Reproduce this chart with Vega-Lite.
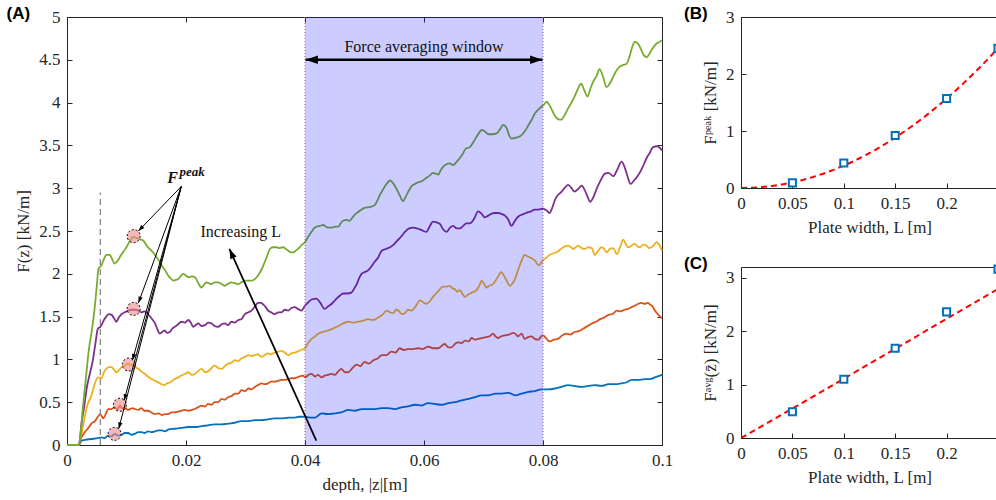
{
"$schema":"https://vega.github.io/schema/vega-lite/v6.json",
"background":"white",
"padding":{"left":5,"top":4,"right":0,"bottom":0},
"spacing":79,
"bounds":"flush",
"datasets":{
"curves":[
{"L":"0.05","d":0,"F":0},{"L":"0.05","d":0.002,"F":0},{"L":"0.05","d":0.0022,"F":0.02},{"L":"0.05","d":0.0024,"F":0.05},{"L":"0.05","d":0.003,"F":0.06},{"L":"0.05","d":0.0041,"F":0.07},{"L":"0.05","d":0.0052,"F":0.08},{"L":"0.05","d":0.0058,"F":0.09},{"L":"0.05","d":0.0063,"F":0.08},{"L":"0.05","d":0.0069,"F":0.11},{"L":"0.05","d":0.0075,"F":0.1},{"L":"0.05","d":0.008,"F":0.13},{"L":"0.05","d":0.0086,"F":0.11},{"L":"0.05","d":0.0092,"F":0.12},{"L":"0.05","d":0.0097,"F":0.14},{"L":"0.05","d":0.0103,"F":0.14},{"L":"0.05","d":0.0108,"F":0.12},{"L":"0.05","d":0.0114,"F":0.13},{"L":"0.05","d":0.012,"F":0.15},{"L":"0.05","d":0.0125,"F":0.15},{"L":"0.05","d":0.0131,"F":0.14},{"L":"0.05","d":0.0136,"F":0.16},{"L":"0.05","d":0.0142,"F":0.15},{"L":"0.05","d":0.0148,"F":0.16},{"L":"0.05","d":0.0154,"F":0.17},{"L":"0.05","d":0.0159,"F":0.17},{"L":"0.05","d":0.0165,"F":0.16},{"L":"0.05","d":0.017,"F":0.18},{"L":"0.05","d":0.0181,"F":0.19},{"L":"0.05","d":0.0192,"F":0.2},{"L":"0.05","d":0.0204,"F":0.21},{"L":"0.05","d":0.0215,"F":0.21},{"L":"0.05","d":0.0226,"F":0.22},{"L":"0.05","d":0.0237,"F":0.23},{"L":"0.05","d":0.0248,"F":0.24},{"L":"0.05","d":0.026,"F":0.24},{"L":"0.05","d":0.0271,"F":0.25},{"L":"0.05","d":0.0282,"F":0.26},{"L":"0.05","d":0.0293,"F":0.28},{"L":"0.05","d":0.0305,"F":0.28},{"L":"0.05","d":0.0316,"F":0.29},{"L":"0.05","d":0.0327,"F":0.29},{"L":"0.05","d":0.0338,"F":0.3},{"L":"0.05","d":0.0349,"F":0.31},{"L":"0.05","d":0.036,"F":0.31},{"L":"0.05","d":0.0372,"F":0.32},{"L":"0.05","d":0.0383,"F":0.32},{"L":"0.05","d":0.039,"F":0.33},{"L":"0.05","d":0.04,"F":0.33},{"L":"0.05","d":0.0408,"F":0.32},{"L":"0.05","d":0.0417,"F":0.32},{"L":"0.05","d":0.0428,"F":0.37},{"L":"0.05","d":0.0439,"F":0.36},{"L":"0.05","d":0.045,"F":0.37},{"L":"0.05","d":0.0461,"F":0.38},{"L":"0.05","d":0.0473,"F":0.41},{"L":"0.05","d":0.0484,"F":0.4},{"L":"0.05","d":0.0495,"F":0.42},{"L":"0.05","d":0.0506,"F":0.42},{"L":"0.05","d":0.0517,"F":0.42},{"L":"0.05","d":0.0529,"F":0.43},{"L":"0.05","d":0.054,"F":0.43},{"L":"0.05","d":0.0551,"F":0.42},{"L":"0.05","d":0.0562,"F":0.44},{"L":"0.05","d":0.0573,"F":0.45},{"L":"0.05","d":0.0585,"F":0.47},{"L":"0.05","d":0.0596,"F":0.46},{"L":"0.05","d":0.0607,"F":0.49},{"L":"0.05","d":0.0618,"F":0.48},{"L":"0.05","d":0.063,"F":0.47},{"L":"0.05","d":0.0641,"F":0.49},{"L":"0.05","d":0.0652,"F":0.5},{"L":"0.05","d":0.0663,"F":0.52},{"L":"0.05","d":0.0675,"F":0.54},{"L":"0.05","d":0.0686,"F":0.56},{"L":"0.05","d":0.0697,"F":0.58},{"L":"0.05","d":0.0708,"F":0.58},{"L":"0.05","d":0.072,"F":0.6},{"L":"0.05","d":0.0731,"F":0.6},{"L":"0.05","d":0.0742,"F":0.61},{"L":"0.05","d":0.0753,"F":0.58},{"L":"0.05","d":0.0764,"F":0.6},{"L":"0.05","d":0.0775,"F":0.62},{"L":"0.05","d":0.0786,"F":0.63},{"L":"0.05","d":0.0797,"F":0.65},{"L":"0.05","d":0.0808,"F":0.65},{"L":"0.05","d":0.082,"F":0.66},{"L":"0.05","d":0.0831,"F":0.68},{"L":"0.05","d":0.0842,"F":0.7},{"L":"0.05","d":0.0853,"F":0.69},{"L":"0.05","d":0.0864,"F":0.68},{"L":"0.05","d":0.0876,"F":0.69},{"L":"0.05","d":0.0887,"F":0.7},{"L":"0.05","d":0.0898,"F":0.69},{"L":"0.05","d":0.091,"F":0.71},{"L":"0.05","d":0.0921,"F":0.71},{"L":"0.05","d":0.0932,"F":0.72},{"L":"0.05","d":0.094,"F":0.73},{"L":"0.05","d":0.0949,"F":0.76},{"L":"0.05","d":0.096,"F":0.76},{"L":"0.05","d":0.0971,"F":0.77},{"L":"0.05","d":0.098,"F":0.77},{"L":"0.05","d":0.0988,"F":0.79},{"L":"0.05","d":0.1,"F":0.82},
{"L":"0.1","d":0,"F":0},{"L":"0.1","d":0.002,"F":0},{"L":"0.1","d":0.0022,"F":0.05},{"L":"0.1","d":0.003,"F":0.15},{"L":"0.1","d":0.0036,"F":0.2},{"L":"0.1","d":0.0041,"F":0.25},{"L":"0.1","d":0.0047,"F":0.28},{"L":"0.1","d":0.0052,"F":0.33},{"L":"0.1","d":0.0056,"F":0.36},{"L":"0.1","d":0.0061,"F":0.31},{"L":"0.1","d":0.0065,"F":0.36},{"L":"0.1","d":0.0069,"F":0.42},{"L":"0.1","d":0.0075,"F":0.42},{"L":"0.1","d":0.008,"F":0.44},{"L":"0.1","d":0.0085,"F":0.42},{"L":"0.1","d":0.0089,"F":0.46},{"L":"0.1","d":0.0093,"F":0.43},{"L":"0.1","d":0.0097,"F":0.44},{"L":"0.1","d":0.0102,"F":0.41},{"L":"0.1","d":0.0106,"F":0.42},{"L":"0.1","d":0.011,"F":0.43},{"L":"0.1","d":0.0114,"F":0.42},{"L":"0.1","d":0.012,"F":0.41},{"L":"0.1","d":0.0125,"F":0.43},{"L":"0.1","d":0.013,"F":0.4},{"L":"0.1","d":0.0136,"F":0.4},{"L":"0.1","d":0.0142,"F":0.38},{"L":"0.1","d":0.0148,"F":0.36},{"L":"0.1","d":0.0154,"F":0.37},{"L":"0.1","d":0.0159,"F":0.35},{"L":"0.1","d":0.0165,"F":0.36},{"L":"0.1","d":0.017,"F":0.36},{"L":"0.1","d":0.0176,"F":0.38},{"L":"0.1","d":0.0181,"F":0.38},{"L":"0.1","d":0.0187,"F":0.39},{"L":"0.1","d":0.0192,"F":0.4},{"L":"0.1","d":0.0198,"F":0.41},{"L":"0.1","d":0.0204,"F":0.4},{"L":"0.1","d":0.021,"F":0.41},{"L":"0.1","d":0.0215,"F":0.42},{"L":"0.1","d":0.022,"F":0.44},{"L":"0.1","d":0.0226,"F":0.46},{"L":"0.1","d":0.0232,"F":0.45},{"L":"0.1","d":0.0237,"F":0.48},{"L":"0.1","d":0.0243,"F":0.47},{"L":"0.1","d":0.0248,"F":0.5},{"L":"0.1","d":0.0254,"F":0.5},{"L":"0.1","d":0.026,"F":0.54},{"L":"0.1","d":0.0265,"F":0.53},{"L":"0.1","d":0.0271,"F":0.56},{"L":"0.1","d":0.0276,"F":0.57},{"L":"0.1","d":0.0282,"F":0.6},{"L":"0.1","d":0.0288,"F":0.6},{"L":"0.1","d":0.0293,"F":0.64},{"L":"0.1","d":0.0299,"F":0.63},{"L":"0.1","d":0.0305,"F":0.66},{"L":"0.1","d":0.031,"F":0.65},{"L":"0.1","d":0.0316,"F":0.68},{"L":"0.1","d":0.0321,"F":0.7},{"L":"0.1","d":0.0327,"F":0.72},{"L":"0.1","d":0.0332,"F":0.71},{"L":"0.1","d":0.0338,"F":0.72},{"L":"0.1","d":0.0343,"F":0.74},{"L":"0.1","d":0.0349,"F":0.74},{"L":"0.1","d":0.0355,"F":0.75},{"L":"0.1","d":0.036,"F":0.76},{"L":"0.1","d":0.0366,"F":0.76},{"L":"0.1","d":0.0372,"F":0.77},{"L":"0.1","d":0.0377,"F":0.78},{"L":"0.1","d":0.0383,"F":0.78},{"L":"0.1","d":0.039,"F":0.8},{"L":"0.1","d":0.0397,"F":0.81},{"L":"0.1","d":0.04,"F":0.79},{"L":"0.1","d":0.0406,"F":0.82},{"L":"0.1","d":0.0411,"F":0.83},{"L":"0.1","d":0.0417,"F":0.8},{"L":"0.1","d":0.0422,"F":0.82},{"L":"0.1","d":0.0428,"F":0.79},{"L":"0.1","d":0.0433,"F":0.81},{"L":"0.1","d":0.0439,"F":0.82},{"L":"0.1","d":0.0445,"F":0.83},{"L":"0.1","d":0.045,"F":0.82},{"L":"0.1","d":0.0456,"F":0.86},{"L":"0.1","d":0.0461,"F":0.89},{"L":"0.1","d":0.0467,"F":0.85},{"L":"0.1","d":0.0473,"F":0.85},{"L":"0.1","d":0.048,"F":0.9},{"L":"0.1","d":0.0487,"F":0.94},{"L":"0.1","d":0.0493,"F":0.92},{"L":"0.1","d":0.05,"F":0.97},{"L":"0.1","d":0.0507,"F":0.95},{"L":"0.1","d":0.0515,"F":0.99},{"L":"0.1","d":0.0522,"F":1.01},{"L":"0.1","d":0.0529,"F":1.05},{"L":"0.1","d":0.0537,"F":1.05},{"L":"0.1","d":0.0545,"F":1.09},{"L":"0.1","d":0.0552,"F":1.08},{"L":"0.1","d":0.0559,"F":1.13},{"L":"0.1","d":0.0566,"F":1.11},{"L":"0.1","d":0.0573,"F":1.12},{"L":"0.1","d":0.0582,"F":1.12},{"L":"0.1","d":0.059,"F":1.13},{"L":"0.1","d":0.0598,"F":1.12},{"L":"0.1","d":0.0607,"F":1.15},{"L":"0.1","d":0.0615,"F":1.13},{"L":"0.1","d":0.0624,"F":1.13},{"L":"0.1","d":0.063,"F":1.16},{"L":"0.1","d":0.0635,"F":1.18},{"L":"0.1","d":0.0641,"F":1.14},{"L":"0.1","d":0.0646,"F":1.14},{"L":"0.1","d":0.0652,"F":1.18},{"L":"0.1","d":0.0657,"F":1.2},{"L":"0.1","d":0.0663,"F":1.19},{"L":"0.1","d":0.0669,"F":1.22},{"L":"0.1","d":0.0675,"F":1.21},{"L":"0.1","d":0.068,"F":1.25},{"L":"0.1","d":0.0686,"F":1.23},{"L":"0.1","d":0.0691,"F":1.24},{"L":"0.1","d":0.0698,"F":1.25},{"L":"0.1","d":0.0705,"F":1.26},{"L":"0.1","d":0.071,"F":1.27},{"L":"0.1","d":0.0716,"F":1.3},{"L":"0.1","d":0.072,"F":1.27},{"L":"0.1","d":0.0725,"F":1.25},{"L":"0.1","d":0.073,"F":1.27},{"L":"0.1","d":0.0736,"F":1.28},{"L":"0.1","d":0.0743,"F":1.29},{"L":"0.1","d":0.075,"F":1.31},{"L":"0.1","d":0.0755,"F":1.29},{"L":"0.1","d":0.0758,"F":1.27},{"L":"0.1","d":0.0764,"F":1.3},{"L":"0.1","d":0.0769,"F":1.24},{"L":"0.1","d":0.0775,"F":1.26},{"L":"0.1","d":0.0781,"F":1.27},{"L":"0.1","d":0.0786,"F":1.24},{"L":"0.1","d":0.0792,"F":1.23},{"L":"0.1","d":0.0797,"F":1.27},{"L":"0.1","d":0.08,"F":1.28},{"L":"0.1","d":0.0806,"F":1.24},{"L":"0.1","d":0.0811,"F":1.21},{"L":"0.1","d":0.0818,"F":1.23},{"L":"0.1","d":0.0825,"F":1.24},{"L":"0.1","d":0.0832,"F":1.28},{"L":"0.1","d":0.0839,"F":1.3},{"L":"0.1","d":0.0846,"F":1.29},{"L":"0.1","d":0.0853,"F":1.32},{"L":"0.1","d":0.086,"F":1.33},{"L":"0.1","d":0.0868,"F":1.36},{"L":"0.1","d":0.0875,"F":1.39},{"L":"0.1","d":0.0882,"F":1.42},{"L":"0.1","d":0.0889,"F":1.44},{"L":"0.1","d":0.0896,"F":1.47},{"L":"0.1","d":0.0903,"F":1.49},{"L":"0.1","d":0.091,"F":1.52},{"L":"0.1","d":0.0917,"F":1.53},{"L":"0.1","d":0.0924,"F":1.57},{"L":"0.1","d":0.093,"F":1.56},{"L":"0.1","d":0.0937,"F":1.58},{"L":"0.1","d":0.0943,"F":1.59},{"L":"0.1","d":0.0949,"F":1.61},{"L":"0.1","d":0.0955,"F":1.63},{"L":"0.1","d":0.096,"F":1.65},{"L":"0.1","d":0.0966,"F":1.66},{"L":"0.1","d":0.0971,"F":1.65},{"L":"0.1","d":0.0976,"F":1.66},{"L":"0.1","d":0.098,"F":1.64},{"L":"0.1","d":0.0984,"F":1.62},{"L":"0.1","d":0.0988,"F":1.57},{"L":"0.1","d":0.0994,"F":1.52},{"L":"0.1","d":0.1,"F":1.48},
{"L":"0.15","d":0,"F":0},{"L":"0.15","d":0.002,"F":0},{"L":"0.15","d":0.0022,"F":0.05},{"L":"0.15","d":0.0027,"F":0.23},{"L":"0.15","d":0.0034,"F":0.46},{"L":"0.15","d":0.0041,"F":0.58},{"L":"0.15","d":0.0046,"F":0.7},{"L":"0.15","d":0.0052,"F":0.79},{"L":"0.15","d":0.0058,"F":0.78},{"L":"0.15","d":0.0062,"F":0.85},{"L":"0.15","d":0.0066,"F":0.89},{"L":"0.15","d":0.0071,"F":0.91},{"L":"0.15","d":0.0075,"F":0.91},{"L":"0.15","d":0.0079,"F":0.88},{"L":"0.15","d":0.0083,"F":0.85},{"L":"0.15","d":0.0088,"F":0.88},{"L":"0.15","d":0.0092,"F":0.91},{"L":"0.15","d":0.0097,"F":0.93},{"L":"0.15","d":0.0103,"F":0.95},{"L":"0.15","d":0.0107,"F":0.93},{"L":"0.15","d":0.0111,"F":0.94},{"L":"0.15","d":0.0115,"F":0.91},{"L":"0.15","d":0.012,"F":0.89},{"L":"0.15","d":0.0125,"F":0.86},{"L":"0.15","d":0.0131,"F":0.83},{"L":"0.15","d":0.0136,"F":0.8},{"L":"0.15","d":0.0142,"F":0.77},{"L":"0.15","d":0.0148,"F":0.75},{"L":"0.15","d":0.0154,"F":0.73},{"L":"0.15","d":0.0159,"F":0.71},{"L":"0.15","d":0.0164,"F":0.7},{"L":"0.15","d":0.0168,"F":0.72},{"L":"0.15","d":0.0173,"F":0.73},{"L":"0.15","d":0.0177,"F":0.75},{"L":"0.15","d":0.0181,"F":0.77},{"L":"0.15","d":0.0187,"F":0.79},{"L":"0.15","d":0.0192,"F":0.81},{"L":"0.15","d":0.0198,"F":0.83},{"L":"0.15","d":0.0204,"F":0.85},{"L":"0.15","d":0.021,"F":0.82},{"L":"0.15","d":0.0215,"F":0.83},{"L":"0.15","d":0.022,"F":0.86},{"L":"0.15","d":0.0226,"F":0.89},{"L":"0.15","d":0.0232,"F":0.85},{"L":"0.15","d":0.0237,"F":0.86},{"L":"0.15","d":0.0243,"F":0.9},{"L":"0.15","d":0.0248,"F":0.93},{"L":"0.15","d":0.0254,"F":0.9},{"L":"0.15","d":0.026,"F":0.89},{"L":"0.15","d":0.0265,"F":0.92},{"L":"0.15","d":0.0271,"F":0.95},{"L":"0.15","d":0.0276,"F":0.96},{"L":"0.15","d":0.0282,"F":0.99},{"L":"0.15","d":0.0288,"F":0.98},{"L":"0.15","d":0.0293,"F":1.01},{"L":"0.15","d":0.0299,"F":1.03},{"L":"0.15","d":0.0305,"F":1.05},{"L":"0.15","d":0.031,"F":1.04},{"L":"0.15","d":0.0316,"F":1.05},{"L":"0.15","d":0.0321,"F":1.06},{"L":"0.15","d":0.0327,"F":1.03},{"L":"0.15","d":0.0332,"F":1.05},{"L":"0.15","d":0.0338,"F":1.07},{"L":"0.15","d":0.0343,"F":1.06},{"L":"0.15","d":0.0349,"F":1.08},{"L":"0.15","d":0.0355,"F":1.09},{"L":"0.15","d":0.036,"F":1.1},{"L":"0.15","d":0.0366,"F":1.08},{"L":"0.15","d":0.0372,"F":1.05},{"L":"0.15","d":0.0377,"F":1.07},{"L":"0.15","d":0.0383,"F":1.08},{"L":"0.15","d":0.039,"F":1.1},{"L":"0.15","d":0.0397,"F":1.12},{"L":"0.15","d":0.04,"F":1.13},{"L":"0.15","d":0.0405,"F":1.19},{"L":"0.15","d":0.0411,"F":1.24},{"L":"0.15","d":0.0417,"F":1.27},{"L":"0.15","d":0.0422,"F":1.3},{"L":"0.15","d":0.043,"F":1.32},{"L":"0.15","d":0.0439,"F":1.34},{"L":"0.15","d":0.0447,"F":1.36},{"L":"0.15","d":0.0456,"F":1.39},{"L":"0.15","d":0.0464,"F":1.42},{"L":"0.15","d":0.0473,"F":1.44},{"L":"0.15","d":0.048,"F":1.43},{"L":"0.15","d":0.0489,"F":1.44},{"L":"0.15","d":0.0497,"F":1.45},{"L":"0.15","d":0.0506,"F":1.47},{"L":"0.15","d":0.0515,"F":1.46},{"L":"0.15","d":0.0523,"F":1.49},{"L":"0.15","d":0.053,"F":1.52},{"L":"0.15","d":0.0537,"F":1.57},{"L":"0.15","d":0.0543,"F":1.55},{"L":"0.15","d":0.0548,"F":1.54},{"L":"0.15","d":0.0553,"F":1.58},{"L":"0.15","d":0.0557,"F":1.57},{"L":"0.15","d":0.0563,"F":1.53},{"L":"0.15","d":0.0568,"F":1.54},{"L":"0.15","d":0.0573,"F":1.58},{"L":"0.15","d":0.0579,"F":1.57},{"L":"0.15","d":0.0586,"F":1.62},{"L":"0.15","d":0.0593,"F":1.69},{"L":"0.15","d":0.0598,"F":1.67},{"L":"0.15","d":0.0604,"F":1.65},{"L":"0.15","d":0.061,"F":1.68},{"L":"0.15","d":0.0615,"F":1.73},{"L":"0.15","d":0.0623,"F":1.79},{"L":"0.15","d":0.0632,"F":1.85},{"L":"0.15","d":0.0638,"F":1.85},{"L":"0.15","d":0.0643,"F":1.86},{"L":"0.15","d":0.0648,"F":1.83},{"L":"0.15","d":0.0652,"F":1.82},{"L":"0.15","d":0.0656,"F":1.79},{"L":"0.15","d":0.066,"F":1.81},{"L":"0.15","d":0.0665,"F":1.76},{"L":"0.15","d":0.0669,"F":1.73},{"L":"0.15","d":0.0675,"F":1.76},{"L":"0.15","d":0.068,"F":1.78},{"L":"0.15","d":0.0688,"F":1.81},{"L":"0.15","d":0.0693,"F":1.86},{"L":"0.15","d":0.0697,"F":1.92},{"L":"0.15","d":0.0701,"F":1.88},{"L":"0.15","d":0.0705,"F":1.84},{"L":"0.15","d":0.071,"F":1.86},{"L":"0.15","d":0.0716,"F":1.88},{"L":"0.15","d":0.0723,"F":1.95},{"L":"0.15","d":0.073,"F":2.02},{"L":"0.15","d":0.0735,"F":1.97},{"L":"0.15","d":0.0739,"F":1.92},{"L":"0.15","d":0.0744,"F":1.86},{"L":"0.15","d":0.0749,"F":1.89},{"L":"0.15","d":0.0753,"F":1.94},{"L":"0.15","d":0.0757,"F":2.02},{"L":"0.15","d":0.0761,"F":2.1},{"L":"0.15","d":0.0765,"F":2.17},{"L":"0.15","d":0.0769,"F":2.22},{"L":"0.15","d":0.0775,"F":2.2},{"L":"0.15","d":0.0781,"F":2.18},{"L":"0.15","d":0.0787,"F":2.15},{"L":"0.15","d":0.0792,"F":2.1},{"L":"0.15","d":0.0796,"F":2.12},{"L":"0.15","d":0.08,"F":2.16},{"L":"0.15","d":0.0806,"F":2.19},{"L":"0.15","d":0.0811,"F":2.22},{"L":"0.15","d":0.0818,"F":2.24},{"L":"0.15","d":0.0825,"F":2.26},{"L":"0.15","d":0.0832,"F":2.3},{"L":"0.15","d":0.0837,"F":2.32},{"L":"0.15","d":0.0842,"F":2.33},{"L":"0.15","d":0.0847,"F":2.31},{"L":"0.15","d":0.0851,"F":2.29},{"L":"0.15","d":0.0855,"F":2.31},{"L":"0.15","d":0.0859,"F":2.33},{"L":"0.15","d":0.0865,"F":2.3},{"L":"0.15","d":0.087,"F":2.29},{"L":"0.15","d":0.0876,"F":2.31},{"L":"0.15","d":0.0882,"F":2.3},{"L":"0.15","d":0.0887,"F":2.22},{"L":"0.15","d":0.0892,"F":2.26},{"L":"0.15","d":0.0898,"F":2.31},{"L":"0.15","d":0.0903,"F":2.29},{"L":"0.15","d":0.0907,"F":2.25},{"L":"0.15","d":0.0912,"F":2.29},{"L":"0.15","d":0.0918,"F":2.3},{"L":"0.15","d":0.0924,"F":2.23},{"L":"0.15","d":0.093,"F":2.32},{"L":"0.15","d":0.0935,"F":2.4},{"L":"0.15","d":0.0939,"F":2.35},{"L":"0.15","d":0.0943,"F":2.31},{"L":"0.15","d":0.0949,"F":2.33},{"L":"0.15","d":0.0954,"F":2.35},{"L":"0.15","d":0.0959,"F":2.32},{"L":"0.15","d":0.0963,"F":2.31},{"L":"0.15","d":0.0968,"F":2.34},{"L":"0.15","d":0.0974,"F":2.33},{"L":"0.15","d":0.0978,"F":2.3},{"L":"0.15","d":0.0982,"F":2.31},{"L":"0.15","d":0.0987,"F":2.34},{"L":"0.15","d":0.0991,"F":2.37},{"L":"0.15","d":0.0996,"F":2.33},{"L":"0.15","d":0.1,"F":2.27},
{"L":"0.2","d":0,"F":0},{"L":"0.2","d":0.002,"F":0},{"L":"0.2","d":0.0022,"F":0.08},{"L":"0.2","d":0.0024,"F":0.23},{"L":"0.2","d":0.0029,"F":0.45},{"L":"0.2","d":0.0033,"F":0.66},{"L":"0.2","d":0.0039,"F":0.85},{"L":"0.2","d":0.0044,"F":1.01},{"L":"0.2","d":0.0048,"F":1.2},{"L":"0.2","d":0.0052,"F":1.36},{"L":"0.2","d":0.0056,"F":1.38},{"L":"0.2","d":0.0058,"F":1.4},{"L":"0.2","d":0.0062,"F":1.46},{"L":"0.2","d":0.0066,"F":1.5},{"L":"0.2","d":0.007,"F":1.53},{"L":"0.2","d":0.0075,"F":1.52},{"L":"0.2","d":0.0079,"F":1.48},{"L":"0.2","d":0.0083,"F":1.44},{"L":"0.2","d":0.0087,"F":1.49},{"L":"0.2","d":0.0092,"F":1.53},{"L":"0.2","d":0.0097,"F":1.55},{"L":"0.2","d":0.0103,"F":1.57},{"L":"0.2","d":0.0108,"F":1.58},{"L":"0.2","d":0.0114,"F":1.58},{"L":"0.2","d":0.012,"F":1.57},{"L":"0.2","d":0.0125,"F":1.55},{"L":"0.2","d":0.013,"F":1.56},{"L":"0.2","d":0.0136,"F":1.53},{"L":"0.2","d":0.0142,"F":1.48},{"L":"0.2","d":0.0148,"F":1.42},{"L":"0.2","d":0.0152,"F":1.35},{"L":"0.2","d":0.0156,"F":1.3},{"L":"0.2","d":0.016,"F":1.32},{"L":"0.2","d":0.0164,"F":1.34},{"L":"0.2","d":0.0168,"F":1.31},{"L":"0.2","d":0.0173,"F":1.32},{"L":"0.2","d":0.0177,"F":1.36},{"L":"0.2","d":0.0181,"F":1.38},{"L":"0.2","d":0.0187,"F":1.41},{"L":"0.2","d":0.0192,"F":1.44},{"L":"0.2","d":0.0198,"F":1.43},{"L":"0.2","d":0.0204,"F":1.46},{"L":"0.2","d":0.0208,"F":1.43},{"L":"0.2","d":0.0212,"F":1.38},{"L":"0.2","d":0.0216,"F":1.4},{"L":"0.2","d":0.0221,"F":1.42},{"L":"0.2","d":0.0226,"F":1.39},{"L":"0.2","d":0.0232,"F":1.4},{"L":"0.2","d":0.0237,"F":1.43},{"L":"0.2","d":0.0243,"F":1.42},{"L":"0.2","d":0.0248,"F":1.39},{"L":"0.2","d":0.0254,"F":1.38},{"L":"0.2","d":0.026,"F":1.41},{"L":"0.2","d":0.0265,"F":1.42},{"L":"0.2","d":0.0271,"F":1.4},{"L":"0.2","d":0.0276,"F":1.44},{"L":"0.2","d":0.0282,"F":1.43},{"L":"0.2","d":0.0288,"F":1.46},{"L":"0.2","d":0.0293,"F":1.47},{"L":"0.2","d":0.0299,"F":1.53},{"L":"0.2","d":0.0305,"F":1.55},{"L":"0.2","d":0.031,"F":1.57},{"L":"0.2","d":0.0316,"F":1.62},{"L":"0.2","d":0.0321,"F":1.66},{"L":"0.2","d":0.0326,"F":1.66},{"L":"0.2","d":0.033,"F":1.64},{"L":"0.2","d":0.0334,"F":1.61},{"L":"0.2","d":0.0338,"F":1.57},{"L":"0.2","d":0.0343,"F":1.55},{"L":"0.2","d":0.0349,"F":1.53},{"L":"0.2","d":0.0355,"F":1.55},{"L":"0.2","d":0.036,"F":1.55},{"L":"0.2","d":0.0366,"F":1.58},{"L":"0.2","d":0.0372,"F":1.57},{"L":"0.2","d":0.0377,"F":1.6},{"L":"0.2","d":0.0383,"F":1.61},{"L":"0.2","d":0.0388,"F":1.59},{"L":"0.2","d":0.0394,"F":1.57},{"L":"0.2","d":0.04,"F":1.63},{"L":"0.2","d":0.0406,"F":1.67},{"L":"0.2","d":0.0411,"F":1.7},{"L":"0.2","d":0.0419,"F":1.71},{"L":"0.2","d":0.0425,"F":1.67},{"L":"0.2","d":0.0433,"F":1.59},{"L":"0.2","d":0.0439,"F":1.62},{"L":"0.2","d":0.0445,"F":1.65},{"L":"0.2","d":0.0453,"F":1.71},{"L":"0.2","d":0.0458,"F":1.74},{"L":"0.2","d":0.0464,"F":1.77},{"L":"0.2","d":0.0471,"F":1.77},{"L":"0.2","d":0.0478,"F":1.78},{"L":"0.2","d":0.0483,"F":1.83},{"L":"0.2","d":0.0487,"F":1.88},{"L":"0.2","d":0.0491,"F":1.95},{"L":"0.2","d":0.0495,"F":2},{"L":"0.2","d":0.05,"F":2.02},{"L":"0.2","d":0.0506,"F":2.04},{"L":"0.2","d":0.0512,"F":2.09},{"L":"0.2","d":0.0517,"F":2.14},{"L":"0.2","d":0.0523,"F":2.19},{"L":"0.2","d":0.0529,"F":2.27},{"L":"0.2","d":0.0536,"F":2.29},{"L":"0.2","d":0.0543,"F":2.31},{"L":"0.2","d":0.0549,"F":2.34},{"L":"0.2","d":0.0554,"F":2.38},{"L":"0.2","d":0.0561,"F":2.43},{"L":"0.2","d":0.0568,"F":2.49},{"L":"0.2","d":0.0575,"F":2.53},{"L":"0.2","d":0.0582,"F":2.54},{"L":"0.2","d":0.0588,"F":2.53},{"L":"0.2","d":0.0593,"F":2.52},{"L":"0.2","d":0.0599,"F":2.5},{"L":"0.2","d":0.0604,"F":2.49},{"L":"0.2","d":0.061,"F":2.56},{"L":"0.2","d":0.0615,"F":2.61},{"L":"0.2","d":0.0621,"F":2.6},{"L":"0.2","d":0.0627,"F":2.58},{"L":"0.2","d":0.0632,"F":2.52},{"L":"0.2","d":0.0638,"F":2.49},{"L":"0.2","d":0.0644,"F":2.54},{"L":"0.2","d":0.0649,"F":2.56},{"L":"0.2","d":0.0655,"F":2.53},{"L":"0.2","d":0.066,"F":2.53},{"L":"0.2","d":0.0666,"F":2.56},{"L":"0.2","d":0.0671,"F":2.59},{"L":"0.2","d":0.0677,"F":2.59},{"L":"0.2","d":0.0684,"F":2.64},{"L":"0.2","d":0.0691,"F":2.73},{"L":"0.2","d":0.0697,"F":2.7},{"L":"0.2","d":0.0702,"F":2.66},{"L":"0.2","d":0.0708,"F":2.68},{"L":"0.2","d":0.0713,"F":2.7},{"L":"0.2","d":0.0719,"F":2.71},{"L":"0.2","d":0.0725,"F":2.71},{"L":"0.2","d":0.073,"F":2.7},{"L":"0.2","d":0.0736,"F":2.68},{"L":"0.2","d":0.0741,"F":2.64},{"L":"0.2","d":0.0747,"F":2.56},{"L":"0.2","d":0.0752,"F":2.61},{"L":"0.2","d":0.0756,"F":2.65},{"L":"0.2","d":0.0761,"F":2.68},{"L":"0.2","d":0.0768,"F":2.7},{"L":"0.2","d":0.0775,"F":2.72},{"L":"0.2","d":0.078,"F":2.73},{"L":"0.2","d":0.0786,"F":2.75},{"L":"0.2","d":0.0792,"F":2.75},{"L":"0.2","d":0.08,"F":2.76},{"L":"0.2","d":0.0806,"F":2.74},{"L":"0.2","d":0.0811,"F":2.71},{"L":"0.2","d":0.0816,"F":2.78},{"L":"0.2","d":0.082,"F":2.86},{"L":"0.2","d":0.0825,"F":2.92},{"L":"0.2","d":0.083,"F":2.95},{"L":"0.2","d":0.0836,"F":3},{"L":"0.2","d":0.0842,"F":3.04},{"L":"0.2","d":0.0847,"F":3.01},{"L":"0.2","d":0.0853,"F":2.96},{"L":"0.2","d":0.0859,"F":2.99},{"L":"0.2","d":0.0865,"F":3.03},{"L":"0.2","d":0.087,"F":2.98},{"L":"0.2","d":0.0875,"F":2.9},{"L":"0.2","d":0.0879,"F":2.84},{"L":"0.2","d":0.0885,"F":2.9},{"L":"0.2","d":0.089,"F":2.99},{"L":"0.2","d":0.0896,"F":3.08},{"L":"0.2","d":0.0904,"F":3.17},{"L":"0.2","d":0.091,"F":3.18},{"L":"0.2","d":0.0918,"F":3.14},{"L":"0.2","d":0.0925,"F":3.22},{"L":"0.2","d":0.0932,"F":3.31},{"L":"0.2","d":0.0937,"F":3.25},{"L":"0.2","d":0.0942,"F":3.14},{"L":"0.2","d":0.0947,"F":3.05},{"L":"0.2","d":0.0953,"F":3.09},{"L":"0.2","d":0.096,"F":3.15},{"L":"0.2","d":0.0967,"F":3.24},{"L":"0.2","d":0.0974,"F":3.35},{"L":"0.2","d":0.098,"F":3.42},{"L":"0.2","d":0.0985,"F":3.48},{"L":"0.2","d":0.0992,"F":3.49},{"L":"0.2","d":0.1,"F":3.44},
{"L":"0.25","d":0,"F":0},{"L":"0.25","d":0.002,"F":0},{"L":"0.25","d":0.0023,"F":0.15},{"L":"0.25","d":0.0027,"F":0.46},{"L":"0.25","d":0.0032,"F":0.8},{"L":"0.25","d":0.0037,"F":1.13},{"L":"0.25","d":0.0042,"F":1.35},{"L":"0.25","d":0.0046,"F":1.57},{"L":"0.25","d":0.005,"F":1.85},{"L":"0.25","d":0.0053,"F":2.06},{"L":"0.25","d":0.0058,"F":2.1},{"L":"0.25","d":0.0062,"F":2.17},{"L":"0.25","d":0.0066,"F":2.22},{"L":"0.25","d":0.0072,"F":2.22},{"L":"0.25","d":0.0076,"F":2.17},{"L":"0.25","d":0.008,"F":2.12},{"L":"0.25","d":0.0086,"F":2.16},{"L":"0.25","d":0.009,"F":2.21},{"L":"0.25","d":0.0094,"F":2.25},{"L":"0.25","d":0.0099,"F":2.3},{"L":"0.25","d":0.0103,"F":2.35},{"L":"0.25","d":0.0108,"F":2.41},{"L":"0.25","d":0.0112,"F":2.43},{"L":"0.25","d":0.0116,"F":2.42},{"L":"0.25","d":0.012,"F":2.41},{"L":"0.25","d":0.0124,"F":2.4},{"L":"0.25","d":0.0128,"F":2.39},{"L":"0.25","d":0.0132,"F":2.35},{"L":"0.25","d":0.0136,"F":2.31},{"L":"0.25","d":0.0142,"F":2.27},{"L":"0.25","d":0.0148,"F":2.22},{"L":"0.25","d":0.0154,"F":2.16},{"L":"0.25","d":0.0159,"F":2.1},{"L":"0.25","d":0.0165,"F":2.04},{"L":"0.25","d":0.017,"F":1.98},{"L":"0.25","d":0.0175,"F":1.94},{"L":"0.25","d":0.0179,"F":1.92},{"L":"0.25","d":0.0183,"F":1.93},{"L":"0.25","d":0.0187,"F":1.94},{"L":"0.25","d":0.0191,"F":1.97},{"L":"0.25","d":0.0195,"F":2},{"L":"0.25","d":0.02,"F":1.98},{"L":"0.25","d":0.0204,"F":1.96},{"L":"0.25","d":0.021,"F":1.97},{"L":"0.25","d":0.0215,"F":1.96},{"L":"0.25","d":0.022,"F":1.9},{"L":"0.25","d":0.0226,"F":1.84},{"L":"0.25","d":0.023,"F":1.87},{"L":"0.25","d":0.0234,"F":1.9},{"L":"0.25","d":0.0238,"F":1.89},{"L":"0.25","d":0.0243,"F":1.88},{"L":"0.25","d":0.0248,"F":1.9},{"L":"0.25","d":0.0254,"F":1.9},{"L":"0.25","d":0.026,"F":1.88},{"L":"0.25","d":0.0265,"F":1.86},{"L":"0.25","d":0.027,"F":1.88},{"L":"0.25","d":0.0276,"F":1.9},{"L":"0.25","d":0.0282,"F":1.89},{"L":"0.25","d":0.0288,"F":1.88},{"L":"0.25","d":0.0293,"F":1.9},{"L":"0.25","d":0.0299,"F":1.92},{"L":"0.25","d":0.0305,"F":1.92},{"L":"0.25","d":0.031,"F":1.92},{"L":"0.25","d":0.0316,"F":1.94},{"L":"0.25","d":0.0321,"F":1.98},{"L":"0.25","d":0.0327,"F":2.05},{"L":"0.25","d":0.0332,"F":2.13},{"L":"0.25","d":0.0337,"F":2.22},{"L":"0.25","d":0.0341,"F":2.29},{"L":"0.25","d":0.0346,"F":2.31},{"L":"0.25","d":0.0352,"F":2.31},{"L":"0.25","d":0.0357,"F":2.3},{"L":"0.25","d":0.0363,"F":2.31},{"L":"0.25","d":0.0368,"F":2.29},{"L":"0.25","d":0.0372,"F":2.27},{"L":"0.25","d":0.0376,"F":2.25},{"L":"0.25","d":0.038,"F":2.25},{"L":"0.25","d":0.0386,"F":2.28},{"L":"0.25","d":0.0391,"F":2.31},{"L":"0.25","d":0.0395,"F":2.34},{"L":"0.25","d":0.04,"F":2.37},{"L":"0.25","d":0.0406,"F":2.44},{"L":"0.25","d":0.0411,"F":2.49},{"L":"0.25","d":0.0415,"F":2.53},{"L":"0.25","d":0.0419,"F":2.55},{"L":"0.25","d":0.0425,"F":2.56},{"L":"0.25","d":0.0431,"F":2.57},{"L":"0.25","d":0.0435,"F":2.55},{"L":"0.25","d":0.0439,"F":2.54},{"L":"0.25","d":0.0445,"F":2.54},{"L":"0.25","d":0.0451,"F":2.55},{"L":"0.25","d":0.0456,"F":2.55},{"L":"0.25","d":0.046,"F":2.59},{"L":"0.25","d":0.0464,"F":2.62},{"L":"0.25","d":0.047,"F":2.63},{"L":"0.25","d":0.0475,"F":2.62},{"L":"0.25","d":0.048,"F":2.66},{"L":"0.25","d":0.0485,"F":2.7},{"L":"0.25","d":0.0489,"F":2.72},{"L":"0.25","d":0.0495,"F":2.75},{"L":"0.25","d":0.05,"F":2.77},{"L":"0.25","d":0.0508,"F":2.78},{"L":"0.25","d":0.0517,"F":2.8},{"L":"0.25","d":0.0522,"F":2.86},{"L":"0.25","d":0.0525,"F":2.91},{"L":"0.25","d":0.0529,"F":2.96},{"L":"0.25","d":0.0536,"F":3.04},{"L":"0.25","d":0.0543,"F":3.09},{"L":"0.25","d":0.0548,"F":3.06},{"L":"0.25","d":0.0554,"F":2.99},{"L":"0.25","d":0.0559,"F":2.92},{"L":"0.25","d":0.0565,"F":2.85},{"L":"0.25","d":0.057,"F":2.91},{"L":"0.25","d":0.0576,"F":2.99},{"L":"0.25","d":0.058,"F":3.03},{"L":"0.25","d":0.0585,"F":3.05},{"L":"0.25","d":0.059,"F":3.07},{"L":"0.25","d":0.0596,"F":3.08},{"L":"0.25","d":0.06,"F":3.1},{"L":"0.25","d":0.0604,"F":3.12},{"L":"0.25","d":0.061,"F":3.15},{"L":"0.25","d":0.0615,"F":3.18},{"L":"0.25","d":0.062,"F":3.17},{"L":"0.25","d":0.0624,"F":3.16},{"L":"0.25","d":0.0628,"F":3.21},{"L":"0.25","d":0.0632,"F":3.25},{"L":"0.25","d":0.0638,"F":3.28},{"L":"0.25","d":0.0643,"F":3.29},{"L":"0.25","d":0.0649,"F":3.27},{"L":"0.25","d":0.0655,"F":3.31},{"L":"0.25","d":0.066,"F":3.35},{"L":"0.25","d":0.0665,"F":3.4},{"L":"0.25","d":0.067,"F":3.46},{"L":"0.25","d":0.0677,"F":3.48},{"L":"0.25","d":0.0684,"F":3.55},{"L":"0.25","d":0.069,"F":3.62},{"L":"0.25","d":0.0697,"F":3.68},{"L":"0.25","d":0.0703,"F":3.66},{"L":"0.25","d":0.0708,"F":3.63},{"L":"0.25","d":0.0715,"F":3.63},{"L":"0.25","d":0.0722,"F":3.64},{"L":"0.25","d":0.0728,"F":3.69},{"L":"0.25","d":0.0733,"F":3.74},{"L":"0.25","d":0.0739,"F":3.7},{"L":"0.25","d":0.0743,"F":3.62},{"L":"0.25","d":0.0747,"F":3.58},{"L":"0.25","d":0.0755,"F":3.59},{"L":"0.25","d":0.0764,"F":3.62},{"L":"0.25","d":0.077,"F":3.67},{"L":"0.25","d":0.0775,"F":3.73},{"L":"0.25","d":0.0781,"F":3.8},{"L":"0.25","d":0.0786,"F":3.87},{"L":"0.25","d":0.0792,"F":3.92},{"L":"0.25","d":0.0797,"F":3.95},{"L":"0.25","d":0.0802,"F":3.98},{"L":"0.25","d":0.0806,"F":4.01},{"L":"0.25","d":0.081,"F":3.98},{"L":"0.25","d":0.0814,"F":3.93},{"L":"0.25","d":0.0818,"F":3.87},{"L":"0.25","d":0.0823,"F":3.82},{"L":"0.25","d":0.0828,"F":3.8},{"L":"0.25","d":0.0831,"F":3.8},{"L":"0.25","d":0.0836,"F":3.85},{"L":"0.25","d":0.0842,"F":3.93},{"L":"0.25","d":0.0847,"F":3.99},{"L":"0.25","d":0.0853,"F":4.07},{"L":"0.25","d":0.0858,"F":4.15},{"L":"0.25","d":0.0864,"F":4.22},{"L":"0.25","d":0.0869,"F":4.15},{"L":"0.25","d":0.0875,"F":4.07},{"L":"0.25","d":0.0879,"F":4.15},{"L":"0.25","d":0.0884,"F":4.24},{"L":"0.25","d":0.089,"F":4.31},{"L":"0.25","d":0.0895,"F":4.39},{"L":"0.25","d":0.0901,"F":4.3},{"L":"0.25","d":0.0907,"F":4.18},{"L":"0.25","d":0.0912,"F":4.22},{"L":"0.25","d":0.0918,"F":4.3},{"L":"0.25","d":0.0923,"F":4.37},{"L":"0.25","d":0.0929,"F":4.42},{"L":"0.25","d":0.0935,"F":4.44},{"L":"0.25","d":0.094,"F":4.45},{"L":"0.25","d":0.0945,"F":4.53},{"L":"0.25","d":0.095,"F":4.65},{"L":"0.25","d":0.0954,"F":4.71},{"L":"0.25","d":0.0958,"F":4.7},{"L":"0.25","d":0.0963,"F":4.65},{"L":"0.25","d":0.0968,"F":4.57},{"L":"0.25","d":0.0974,"F":4.53},{"L":"0.25","d":0.0978,"F":4.56},{"L":"0.25","d":0.0982,"F":4.61},{"L":"0.25","d":0.0987,"F":4.66},{"L":"0.25","d":0.0991,"F":4.69},{"L":"0.25","d":0.0996,"F":4.71},{"L":"0.25","d":0.1,"F":4.73}
],
"peaks":[{"d":0.0112,"F":2.44},{"d":0.0112,"F":1.59},{"d":0.0104,"F":0.94},{"d":0.0089,"F":0.47},{"d":0.008,"F":0.13}],
"arrows":[
{"kind":"thin","d":0.0192,"F":3.02,"d2":0.012,"F2":2.5},
{"kind":"thin","d":0.0192,"F":3.02,"d2":0.012,"F2":1.66},
{"kind":"thin","d":0.0192,"F":3.02,"d2":0.011,"F2":0.99},
{"kind":"thin","d":0.0192,"F":3.02,"d2":0.0096,"F2":0.52},
{"kind":"thin","d":0.0192,"F":3.02,"d2":0.0087,"F2":0.19},
{"kind":"thick","d":0.0419,"F":0.05,"d2":0.0273,"F2":2.29},
{"kind":"win","d":0.06,"F":4.5,"d2":0.0401,"F2":4.5},
{"kind":"win","d":0.06,"F":4.5,"d2":0.0799,"F2":4.5}
],
"Bpts":[{"L":0.05,"F":0.09},{"L":0.1,"F":0.44},{"L":0.15,"F":0.92},{"L":0.2,"F":1.57},{"L":0.25,"F":2.45}],
"Bfit":[{"L":0,"F":0},{"L":0.01,"F":0.004},{"L":0.02,"F":0.016},{"L":0.03,"F":0.035},{"L":0.04,"F":0.063},{"L":0.05,"F":0.098},{"L":0.06,"F":0.141},{"L":0.07,"F":0.192},{"L":0.08,"F":0.251},{"L":0.09,"F":0.318},{"L":0.1,"F":0.392},{"L":0.11,"F":0.474},{"L":0.12,"F":0.564},{"L":0.13,"F":0.662},{"L":0.14,"F":0.768},{"L":0.15,"F":0.882},{"L":0.16,"F":1.004},{"L":0.17,"F":1.133},{"L":0.18,"F":1.27},{"L":0.19,"F":1.415},{"L":0.2,"F":1.568},{"L":0.21,"F":1.729},{"L":0.22,"F":1.897},{"L":0.23,"F":2.074},{"L":0.24,"F":2.258},{"L":0.25,"F":2.45},{"L":0.26,"F":2.65}],
"Cpts":[{"L":0.05,"F":0.49},{"L":0.1,"F":1.1},{"L":0.15,"F":1.68},{"L":0.2,"F":2.36},{"L":0.25,"F":3.16}],
"Cfit":[{"L":0,"F":0},{"L":0.05,"F":0.55},{"L":0.1,"F":1.11},{"L":0.15,"F":1.67},{"L":0.2,"F":2.23},{"L":0.25,"F":2.79},{"L":0.26,"F":2.9}]
},
"hconcat":[
{
"width":595,"height":428,
"layer":[
{"data":{"name":"curves"},"mark":{"type":"line","strokeWidth":1.8,"interpolate":"monotone"},
 "encoding":{
  "x":{"field":"d","type":"quantitative","scale":{"domain":[0,0.1],"nice":false,"zero":false},"axis":{"values":[0,0.02,0.04,0.06,0.08,0.1],"format":"~g","title":"depth, |z|[m]"}},
  "y":{"field":"F","type":"quantitative","scale":{"domain":[0,5],"nice":false},"axis":{"values":[0,0.5,1,1.5,2,2.5,3,3.5,4,4.5,5],"format":"~g","title":"F(z) [kN/m]"}},
  "color":{"field":"L","type":"nominal","scale":{"domain":["0.05","0.1","0.15","0.2","0.25"],"range":["#0072BD","#D95319","#EDB120","#7E2F8E","#77AC30"]},"legend":null}
 }},
{"data":{"values":[{"d":0.04,"d2":0.08,"F":0,"F2":5}]},"mark":{"type":"rect","fill":"#0000FF","fillOpacity":0.2,"stroke":null},
 "encoding":{
  "x":{"field":"d","type":"quantitative","axis":{"orient":"top","values":[0,0.02,0.04,0.06,0.08,0.1],"labels":false,"title":null,"domain":false}},
  "x2":{"field":"d2"},
  "y":{"field":"F","type":"quantitative","axis":{"orient":"right","values":[0,0.5,1,1.5,2,2.5,3,3.5,4,4.5,5],"labels":false,"title":null,"domain":false}},
  "y2":{"field":"F2"}
 }},
{"data":{"values":[{"d":0.04},{"d":0.08}]},"mark":{"type":"rule","color":"#a050a0","strokeDash":[1,2],"strokeWidth":1},
 "encoding":{"x":{"field":"d","type":"quantitative","axis":null}}},
{"data":{"values":[{"d":0.0056,"F":0,"F2":2.95}]},"mark":{"type":"rule","color":"#808080","strokeDash":[6,4],"strokeWidth":1.2},
 "encoding":{"x":{"field":"d","type":"quantitative","axis":null},"y":{"field":"F","type":"quantitative","axis":null},"y2":{"field":"F2"}}},
{"data":{"name":"peaks"},"mark":{"type":"point","shape":"circle","filled":true,"fill":"#ee8888","fillOpacity":0.6,"stroke":"black","strokeOpacity":1,"strokeWidth":1,"strokeDash":[2,2],"size":170},
 "encoding":{"x":{"field":"d","type":"quantitative","axis":null},"y":{"field":"F","type":"quantitative","axis":null}}},
{"data":{"name":"arrows"},"mark":{"type":"rule","color":"black"},
 "encoding":{"x":{"field":"d","type":"quantitative","axis":null},"y":{"field":"F","type":"quantitative","axis":null},"x2":{"field":"d2"},"y2":{"field":"F2"},
  "strokeWidth":{"field":"kind","type":"ordinal","scale":{"domain":["thin","thick","win"],"range":[1,2.5,1.3]},"legend":null}}},
{"data":{"name":"arrows"},"transform":[{"calculate":"atan2((datum.d2-datum.d)*5950,(datum.F2-datum.F)*85.6)*180/PI","as":"ang"}],
 "mark":{"type":"point","shape":"M0,0L-0.42,1.2L0.42,1.2Z","filled":true,"color":"black","opacity":1},
 "encoding":{"x":{"field":"d2","type":"quantitative","axis":null},"y":{"field":"F2","type":"quantitative","axis":null},
  "angle":{"field":"ang","type":"quantitative","scale":null},
  "size":{"field":"kind","type":"ordinal","scale":{"domain":["thin","thick","win"],"range":[110,420,110]},"legend":null}}},
{"data":{"values":[{"d":-0.01017,"F":5.035,"t":"(A)"}]},"mark":{"type":"text","font":"Liberation Sans","fontWeight":"bold","fontSize":17,"align":"left","baseline":"middle","color":"black"},
 "encoding":{"x":{"field":"d","type":"quantitative","axis":null},"y":{"field":"F","type":"quantitative","axis":null},"text":{"field":"t"}}},
{"data":{"values":[{"d":0.06,"F":4.65,"t":"Force averaging window"},{"d":0.0292,"F":2.49,"t":"Increasing L"}]},"mark":{"type":"text","font":"Liberation Serif","fontSize":16,"align":"center","baseline":"middle","color":"#111111"},
 "encoding":{"x":{"field":"d","type":"quantitative","axis":null},"y":{"field":"F","type":"quantitative","axis":null},"text":{"field":"t"}}},
{"data":{"values":[{"d":0.01684,"F":3.06,"t":"F"}]},"mark":{"type":"text","font":"Liberation Serif","fontStyle":"italic","fontWeight":"bold","fontSize":16,"align":"left","baseline":"alphabetic","color":"#111111"},
 "encoding":{"x":{"field":"d","type":"quantitative","axis":null},"y":{"field":"F","type":"quantitative","axis":null},"text":{"field":"t"}}},
{"data":{"values":[{"d":0.0189,"F":3.14,"t":"peak"}]},"mark":{"type":"text","font":"Liberation Serif","fontStyle":"italic","fontWeight":"bold","fontSize":13,"align":"left","baseline":"alphabetic","color":"#111111"},
 "encoding":{"x":{"field":"d","type":"quantitative","axis":null},"y":{"field":"F","type":"quantitative","axis":null},"text":{"field":"t"}}}
],
"resolve":{"axis":{"x":"independent","y":"independent"}}
},
{
"vconcat":[
{
"width":257,"height":171,
"encoding":{
 "x":{"field":"L","type":"quantitative","scale":{"domain":[0,0.25],"nice":false},"axis":{"values":[0,0.05,0.1,0.15,0.2],"format":"~g","title":"Plate width, L [m]"}},
 "y":{"field":"F","type":"quantitative","scale":{"domain":[0,3],"nice":false},"axis":{"values":[0,1,2,3],"format":"~g","title":"Fᵖᵉᵃᵏ [kN/m]"}}
},
"layer":[
{"data":{"name":"Bfit"},"mark":{"type":"line","color":"#FF0000","strokeDash":[6,4],"strokeWidth":2,"clip":true}},
{"data":{"name":"Bpts"},"mark":{"type":"point","shape":"square","filled":true,"fill":"white","stroke":"#0072BD","strokeWidth":2,"size":50,"opacity":1}},
{"data":{"values":[{"L":-0.0554,"F":3.05,"t":"(B)"}]},"mark":{"type":"text","font":"Liberation Sans","fontWeight":"bold","fontSize":17,"align":"left","baseline":"middle","color":"black"},"encoding":{"text":{"field":"t"}}}
]
},
{
"width":257,"height":171,
"encoding":{
 "x":{"field":"L","type":"quantitative","scale":{"domain":[0,0.25],"nice":false},"axis":{"values":[0,0.05,0.1,0.15,0.2],"format":"~g","title":"Plate width, L [m]"}},
 "y":{"field":"F","type":"quantitative","scale":{"domain":[0,3.2],"nice":false},"axis":{"values":[0,1,2,3],"format":"~g","title":"Fᵃᵛᵍ(z̄) [kN/m]"}}
},
"layer":[
{"data":{"name":"Cfit"},"mark":{"type":"line","color":"#FF0000","strokeDash":[6,4],"strokeWidth":2,"clip":true}},
{"data":{"name":"Cpts"},"mark":{"type":"point","shape":"square","filled":true,"fill":"white","stroke":"#0072BD","strokeWidth":2,"size":50,"opacity":1}},
{"data":{"values":[{"L":-0.0554,"F":3.25,"t":"(C)"}]},"mark":{"type":"text","font":"Liberation Sans","fontWeight":"bold","fontSize":17,"align":"left","baseline":"middle","color":"black"},"encoding":{"text":{"field":"t"}}}
]
}
],
"spacing":79,
"bounds":"flush"
}
],
"config":{
 "font":"Liberation Serif",
 "view":{"stroke":"#262626","strokeWidth":1},
 "axis":{"domainColor":"#262626","domainWidth":1,"tickColor":"#262626","tickWidth":1,"labelColor":"#262626","titleColor":"#262626","labelFont":"Liberation Serif","titleFont":"Liberation Serif","labelFontSize":17,"titleFontSize":17,"titleFontWeight":"normal","grid":false,"tickSize":-5,"labelPadding":12,"labelFlush":false,"labelOverlap":false},
 "axisX":{"titlePadding":8},
 "axisY":{"titlePadding":6}
}
}
